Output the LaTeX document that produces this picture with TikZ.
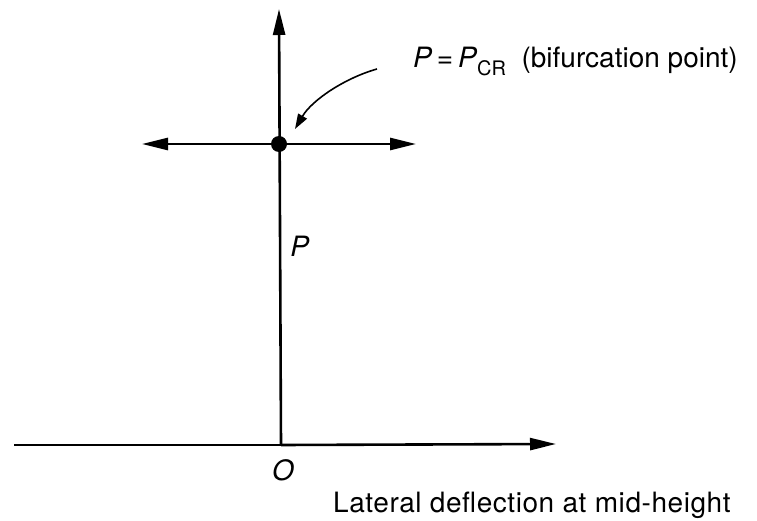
\documentclass[tikz,border=0pt]{standalone}
\usepackage{fontspec}
\setmainfont{TeX Gyre Heros}
\usetikzlibrary{arrows.meta, positioning}

\tikzset{
  axisline/.style={line width=2.6pt, -{Triangle[length=26pt, width=12pt]}},
  pathline/.style={line width=2.6pt},
  pointer/.style={line width=1.6pt, -{Triangle[length=15pt, width=10pt]}},
  lbl/.style={font=\fontsize{28}{32}\selectfont, inner sep=0pt}
}

\begin{document}
\begin{tikzpicture}[x=1pt, y=-1pt]
  \useasboundingbox (0,0) rectangle (757,521);
  % axes
  \coordinate (O) at (281,445);
  \coordinate (xbeg) at (14,445);
  \coordinate (xend) at (556,444);
  \coordinate (ytop) at (279,9);
  \draw[pathline] (xbeg) -- (O);
  \draw[axisline] (O) -- (xend);
  \draw[axisline] (O) -- (ytop);
  % bifurcation point and lateral branches
  \coordinate (B) at (279,144);
  \coordinate (bleft) at (142,144);
  \coordinate (bright) at (416,144);
  \draw[axisline] (B) -- (bleft);
  \draw[axisline] (B) -- (bright);
  \fill (B) circle (8);
  % labels
  \node[lbl, anchor=base west] (crit) at (413,68)
    {\textit{P}\,=\,\textit{P}\raisebox{-8pt}{\fontsize{20}{22}\selectfont CR}\ \ (bifurcation point)};
  \coordinate (ptail) at (377,69);
  \coordinate (phead) at (295,129);
  \draw[pointer] (ptail) .. controls (345,78) and (312,100) .. (phead);
  \node[lbl] (load) at (300,246) {\textit{P}};
  \node[lbl] (orig) at (283,470) {\textit{O}};
  \node[lbl, anchor=base west] (defl) at (333,512)
    {\addfontfeature{LetterSpace=2}Lateral deflection at mid-height};
\end{tikzpicture}
\end{document}
